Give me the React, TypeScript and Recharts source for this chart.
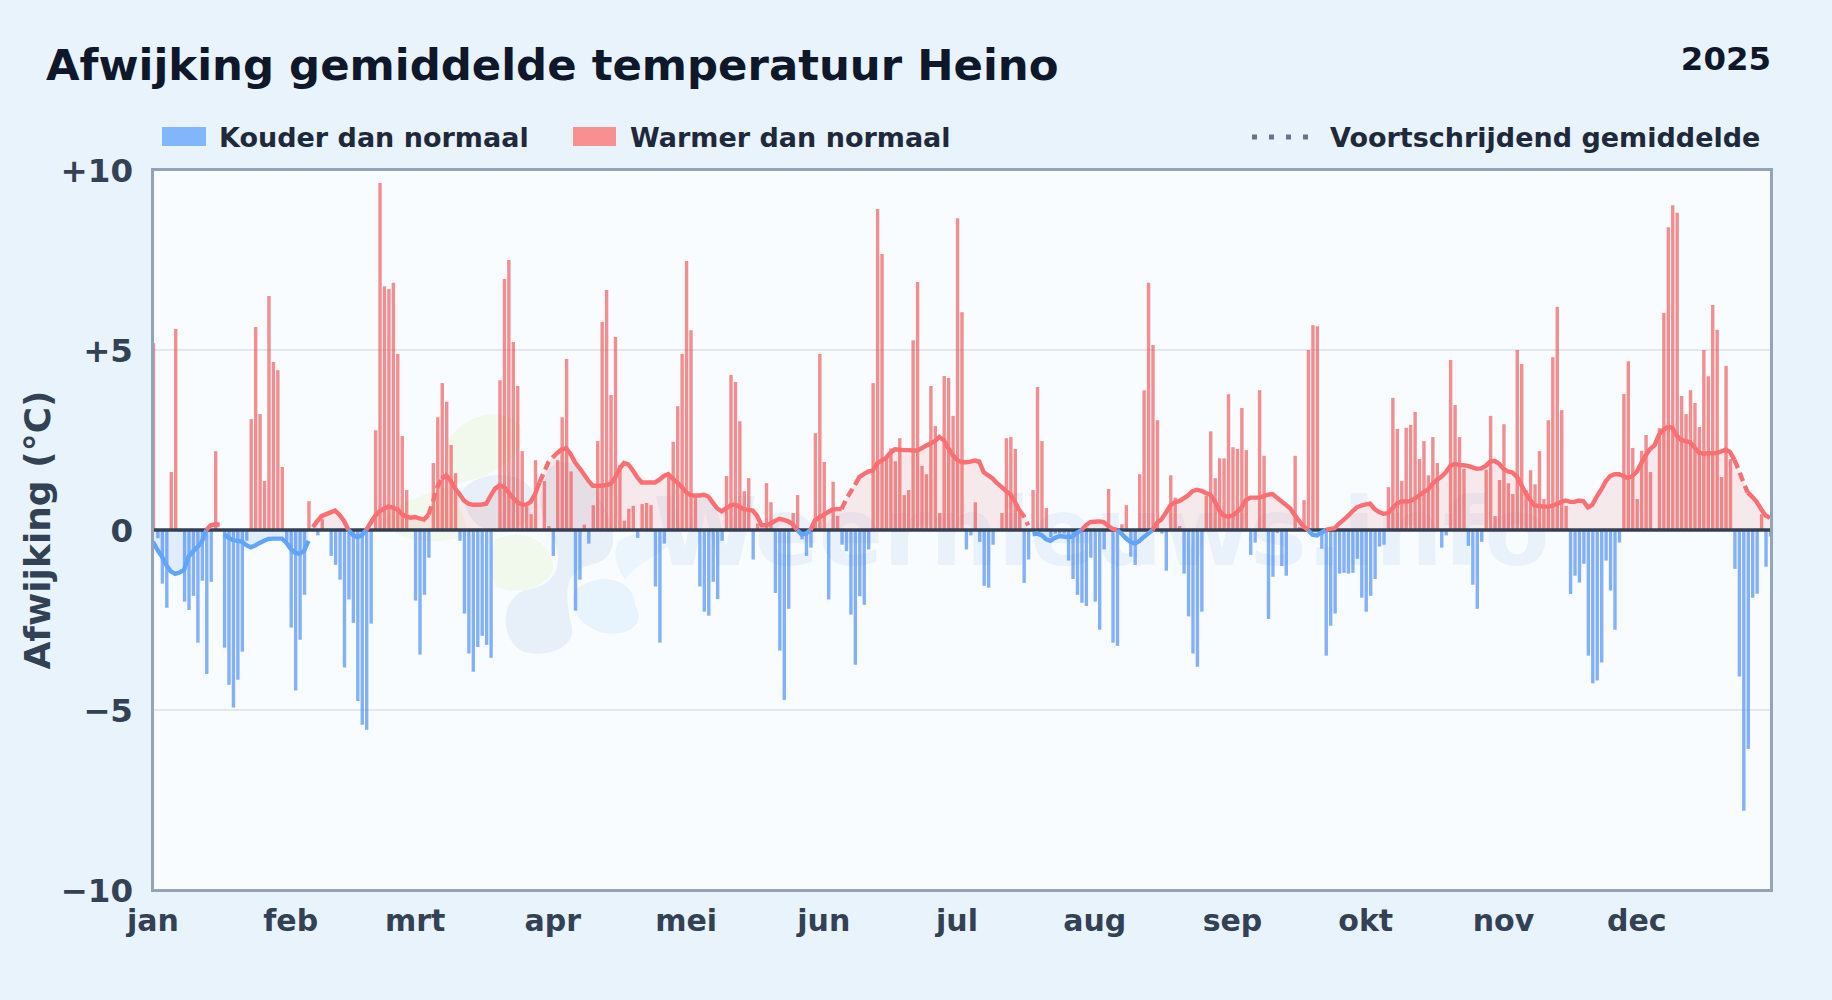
import React from 'react';
import { ComposedChart, Bar, Line, Area, XAxis, YAxis, CartesianGrid, ReferenceLine } from 'recharts';

const titleText = 'Afwijking gemiddelde temperatuur Heino';
const yearText = '2025';
const yAxisTitle = 'Afwijking (°C)';
const coldLabel = 'Kouder dan normaal';
const warmLabel = 'Warmer dan normaal';
const averageLabel = 'Voortschrijdend gemiddelde';

const monthStarts = [0, 31, 59, 90, 120, 151, 181, 212, 243, 273, 304, 334];
const monthLabels = ['jan', 'feb', 'mrt', 'apr', 'mei', 'jun', 'jul', 'aug', 'sep', 'okt', 'nov', 'dec'];
const valueTicks = [-10, -5, 0, 5, 10];
const dashedSpans = [[62, 65], [87, 90], [155, 158], [195, 197], [356, 359]];

const dailyAnomaly = [
  5.19, -0.23, -1.49, -2.16, 1.61, 5.58, -0.05, -1.99, -2.22, -1.83,
  -3.13, -1.41, -4.0, -1.44, 2.19, 0, -3.27, -4.3, -4.93, -4.16,
  -3.38, -0.3, 3.08, 5.64, 3.22, 1.36, 6.5, 4.67, 4.44, 1.75,
  -0.3, -2.71, -4.46, -3.05, -1.8, 0.8, 0, -0.15, 0.3, 0,
  -0.72, -0.97, -1.38, -3.82, -1.93, -2.58, -4.75, -5.41, -5.55, -2.6,
  2.77, 9.64, 6.77, 6.69, 6.87, 4.89, 2.61, 1.11, 0, -1.96,
  -3.46, -1.8, -0.77, 1.86, 3.13, 4.08, 3.56, 2.36, 1.58, -0.3,
  -2.32, -3.43, -3.94, -3.25, -2.94, -3.19, -3.55, 0, 4.16, 6.97,
  7.5, 5.22, 4.0, 2.19, 0.65, 0.44, 1.94, 0, 1.36, 0.11,
  -0.72, 1.94, 3.13, 4.75, 1.63, -2.24, -1.38, 0.15, -0.38, 0.69,
  2.47, 5.78, 6.67, 3.75, 5.36, 1.8, 0.26, 0.59, 0.67, -0.22,
  0.72, 0.75, 0.69, -1.57, -3.13, -0.38, 1.57, 2.45, 3.44, 4.89,
  7.47, 5.55, 0.95, -1.57, -2.27, -2.38, -1.44, -1.92, -0.3, 1.5,
  4.31, 4.11, 3.02, 1.08, 1.44, -0.82, 0.18, 0, 1.3, 0.77,
  -1.75, -3.35, -4.72, -2.19, 0.47, 0.97, -0.26, -0.72, -0.49, 2.69,
  4.89, 1.89, -1.93, 1.34, 0.39, -0.41, -0.59, -2.35, -3.74, -1.84,
  -2.08, -0.54, 4.08, 8.92, 7.67, 1.98, 2.27, 1.91, 2.55, 0.97,
  1.11, 5.27, 6.89, 1.78, 1.55, 4.0, 2.89, 0.47, 4.28, 4.22,
  3.17, 8.66, 6.05, -0.54, -0.15, 0.77, -0.33, -1.55, -1.6, -0.41,
  0, 0.47, 2.55, 2.58, 2.25, 0.49, -1.47, -0.82, 1.11, 3.97,
  2.47, 0.61, -0.2, -0.1, -0.1, -0.1, -0.85, -1.36, -1.8, -2.02,
  -2.11, -0.77, -1.99, -2.77, -0.54, 1.14, -3.13, -3.22, 0.16, 0.69,
  -0.74, -0.97, 1.55, 3.88, 6.87, 5.14, 3.05, -0.1, -1.13, 1.52,
  0.9, 0.11, -1.21, -2.4, -3.43, -3.8, -2.27, 0.95, 2.74, 1.44,
  1.99, 1.99, 3.77, 2.3, 2.25, 3.39, 2.22, -0.69, -0.35, 3.88,
  2.06, -2.47, -1.3, -0.08, -1.0, -1.27, 0, 2.06, 0.08, 0.83,
  5.0, 5.69, 5.66, -0.52, -3.49, -2.66, -2.32, -1.21, -1.19, -1.21,
  -1.19, -0.8, -1.88, -2.27, -1.83, -1.36, -0.46, -0.41, 1.19, 3.67,
  2.81, 1.36, 2.84, 2.92, 3.28, 1.97, 2.47, 1.52, 2.58, 1.86,
  -0.49, -0.15, 4.72, 3.47, 2.58, 1.7, -0.44, -1.52, -2.19, -0.33,
  1.68, 3.17, 0.39, 1.39, 2.94, 1.3, 1.0, 5.0, 4.61, 1.11,
  1.66, 1.27, 2.19, 0.86, 3.05, 4.8, 6.2, 3.33, 0.67, -1.78,
  -1.27, -1.46, -0.94, -3.49, -4.26, -4.18, -3.68, -0.85, -1.68, -2.77,
  -0.35, 3.78, 4.69, 2.28, 0.86, 2.2, 2.64, 1.61, 0, 2.83,
  6.03, 8.41, 9.02, 8.81, 3.72, 3.22, 3.88, 3.53, 2.86, 5.0,
  4.27, 6.25, 5.56, 1.47, 4.56, 1.97, -1.08, -4.07, -7.8, -6.08,
  -1.88, -1.77, 0.44, -1.02, -0.18,
];

const dailyAverage = [
  -0.33, -0.55, -0.74, -0.97, -1.15, -1.22, -1.18, -1.1, -0.74, -0.6,
  -0.47, -0.33, 0, 0.13, 0.16, 0.15, -0.12, -0.22, -0.28, -0.3,
  -0.32, -0.42, -0.48, -0.43, -0.36, -0.3, -0.25, -0.24, -0.24, -0.24,
  -0.35, -0.52, -0.64, -0.66, -0.58, -0.3, 0.08, 0.25, 0.39, 0.44,
  0.49, 0.54, 0.42, 0.25, 0, -0.14, -0.2, -0.15, 0, 0.2,
  0.39, 0.52, 0.6, 0.65, 0.62, 0.57, 0.45, 0.37, 0.34, 0.36,
  0.32, 0.29, 0.42, 0.78, 1.2, 1.42, 1.52, 1.37, 1.15, 1.0,
  0.82, 0.73, 0.7, 0.7, 0.71, 0.73, 0.95, 1.15, 1.24, 1.2,
  1.05, 0.9, 0.77, 0.71, 0.7, 0.78, 1.0, 1.32, 1.6, 1.88,
  2.02, 2.14, 2.24, 2.27, 2.11, 1.88, 1.72, 1.55, 1.37, 1.23,
  1.23, 1.23, 1.25, 1.28, 1.45, 1.7, 1.86, 1.82, 1.66, 1.47,
  1.32, 1.32, 1.32, 1.32, 1.4, 1.5, 1.55, 1.43, 1.32, 1.2,
  1.05, 0.97, 0.96, 0.96, 0.98, 0.93, 0.76, 0.6, 0.52, 0.6,
  0.68, 0.71, 0.65, 0.58, 0.56, 0.54, 0.39, 0.13, 0.13, 0.18,
  0.25, 0.31, 0.28, 0.24, 0.16, 0, -0.12, -0.1, 0, 0.27,
  0.35, 0.42, 0.5, 0.57, 0.58, 0.58, 0.85, 1.05, 1.25, 1.47,
  1.55, 1.62, 1.65, 1.85, 1.93, 2.0, 2.15, 2.24, 2.23, 2.22,
  2.22, 2.21, 2.21, 2.27, 2.34, 2.4, 2.47, 2.58, 2.5, 2.28,
  2.08, 1.95, 1.88, 1.88, 1.9, 1.93, 1.9, 1.6, 1.52, 1.43,
  1.3, 1.2, 1.08, 1.0, 0.8, 0.55, 0.39, 0.13, -0.12, -0.1,
  -0.14, -0.25, -0.3, -0.22, -0.17, -0.18, -0.2, -0.18, -0.08, 0,
  0.13, 0.22, 0.23, 0.24, 0.22, 0.12, 0.03, 0, -0.1, -0.23,
  -0.33, -0.38, -0.31, -0.2, -0.1, 0, 0.2, 0.29, 0.48, 0.68,
  0.77, 0.8, 0.88, 0.96, 1.08, 1.12, 1.09, 1.03, 0.98, 0.8,
  0.55, 0.4, 0.37, 0.4, 0.5, 0.62, 0.83, 0.9, 0.9, 0.9,
  0.94, 0.98, 1.0, 0.9, 0.8, 0.7, 0.6, 0.42, 0.25, 0.1,
  0, -0.13, -0.15, -0.07, 0, 0.03, 0.05, 0.18, 0.28, 0.39,
  0.52, 0.63, 0.68, 0.71, 0.73, 0.58, 0.5, 0.45, 0.47, 0.6,
  0.73, 0.79, 0.79, 0.8, 0.87, 0.96, 1.05, 1.12, 1.28, 1.39,
  1.48, 1.6, 1.78, 1.83, 1.81, 1.8, 1.78, 1.74, 1.7, 1.71,
  1.78, 1.9, 1.92, 1.84, 1.7, 1.63, 1.6, 1.48, 1.26, 1.03,
  0.84, 0.68, 0.67, 0.65, 0.65, 0.67, 0.72, 0.78, 0.82, 0.78,
  0.78, 0.82, 0.8, 0.63, 0.7, 0.93, 1.12, 1.35, 1.5, 1.55,
  1.55, 1.5, 1.44, 1.5, 1.62, 1.85, 2.07, 2.25, 2.35, 2.65,
  2.78, 2.86, 2.84, 2.62, 2.5, 2.47, 2.44, 2.3, 2.15, 2.12,
  2.13, 2.13, 2.14, 2.18, 2.23, 2.17, 1.95, 1.65, 1.33, 1.04,
  0.92, 0.78, 0.58, 0.4, 0.34,
];

const insideDash = (d: number) => dashedSpans.some(([a, b]) => d > a && d < b);
const onDash = (d: number) => dashedSpans.some(([a, b]) => d >= a && d <= b);

const rows = dailyAnomaly.map((v, day) => {
  const m = dailyAverage[day];
  const warm = m >= 0 ? m : null;
  return {
    day,
    warmBar: v > 0 ? v : 0,
    coldBar: v < 0 ? v : 0,
    warmFill: warm,
    coldFill: m <= 0 ? m : null,
    warmSolid: warm !== null && !insideDash(day) ? warm : null,
    warmDash: warm !== null && onDash(day) ? warm : null,
    coldLine: m <= 0 ? m : null,
  };
});

const FONT = '"DejaVu Sans", sans-serif';
const fmtValue = (v: number) => (v > 0 ? `+${v}` : v < 0 ? `\u2212${-v}` : '0');
const fmtMonth = (d: number) => monthLabels[monthStarts.indexOf(d)] ?? '';

const abs = (left: number, top: number, extra: React.CSSProperties = {}): React.CSSProperties => ({
  position: 'absolute', left, top, fontFamily: FONT, fontWeight: 700, whiteSpace: 'nowrap', lineHeight: 1, ...extra,
});

function Watermark() {
  return (
    <svg width={1832} height={1000} style={{ position: 'absolute', left: 0, top: 0 }}>
      <g opacity={0.9}>
        <path d="M448 440 C470 410 505 408 520 425 C528 450 505 472 470 480 C440 490 395 500 385 520 C395 545 440 545 470 535 C460 510 445 470 448 440Z" fill="#f1f8ea" />
        <path d="M495 540 C525 525 555 545 553 570 C545 592 505 596 495 585 C490 570 490 555 495 540Z" fill="#f1f8ea" />
        <path d="M462 490 C480 470 520 470 532 490 C535 510 530 530 500 532 C480 532 465 520 462 490Z" fill="#e6eff8" />
        <path d="M548 470 C565 450 590 470 600 500 C618 530 620 560 590 565 C565 572 565 590 570 620 C582 650 540 660 520 650 C500 635 500 600 525 590 C560 585 565 560 550 530 C535 510 540 490 548 470Z" fill="#e6eff8" />
        <path d="M575 590 C600 570 635 580 635 605 C650 630 615 640 595 630 C575 620 570 605 575 590Z" fill="#e6f3fd" />
        <path d="M620 540 C650 525 680 530 670 545 C650 560 635 565 625 580 C615 565 612 550 620 540Z" fill="#eaf5fe" />
      </g>
      <text x={653} y={565} fontFamily={FONT} fontWeight={700} fontSize={95} fill="#e9f2fb">
        Weernieuws.info
      </text>
    </svg>
  );
}

export default function App() {
  return (
    <div style={{ position: 'absolute', left: 0, top: 0, width: 1832, height: 1000, overflow: 'hidden', background: '#e8f3fc' }}>
      <div style={{ position: 'absolute', left: 152, top: 169, width: 1619, height: 721, background: '#f8fcff' }} />
      <Watermark />

      <div style={abs(46, 44, { fontSize: 43.4, color: '#0f172a' })}>{titleText}</div>
      <div style={abs(1671, 43, { fontSize: 32.4, color: '#0f172a', width: 100, textAlign: 'right' })}>{yearText}</div>

      <div style={{ position: 'absolute', left: 162, top: 127, width: 44, height: 19, background: '#82b6fb' }} />
      <div style={abs(219, 124, { fontSize: 27, color: '#1e293b' })}>{coldLabel}</div>
      <div style={{ position: 'absolute', left: 573, top: 127, width: 43, height: 19, background: '#f88f90' }} />
      <div style={abs(630, 124, { fontSize: 27, color: '#1e293b' })}>{warmLabel}</div>
      <svg width={60} height={10} style={{ position: 'absolute', left: 1250, top: 132 }}>
        <line x1={2} y1={5} x2={58} y2={5} stroke="#64748b" strokeWidth={5} strokeDasharray="5 12" />
      </svg>
      <div style={abs(1330, 124, { fontSize: 27, color: '#1e293b' })}>{averageLabel}</div>

      <div style={{ position: 'absolute', left: 0, top: 0 }}>
        <ComposedChart
          width={1832}
          height={1000}
          data={rows}
          stackOffset="sign"
          barGap={0}
          margin={{ top: 170, right: 62, bottom: 50, left: 53 }}
        >
          <CartesianGrid horizontal vertical={false} stroke="#e2e8f0" strokeWidth={2} />
          <XAxis
            dataKey="day"
            type="number"
            scale="linear"
            domain={[0, 364]}
            ticks={monthStarts}
            interval={0}
            tickFormatter={fmtMonth}
            axisLine={false}
            tickLine={false}
            height={60}
            tickMargin={14}
            tick={{ fontFamily: FONT, fontWeight: 700, fontSize: 30, fill: '#334155' }}
          />
          <YAxis
            type="number"
            domain={[-10, 10]}
            ticks={valueTicks}
            interval={0}
            tickFormatter={fmtValue}
            axisLine={false}
            tickLine={false}
            width={100}
            tickMargin={14}
            tick={{ fontFamily: FONT, fontWeight: 700, fontSize: 32.5, fill: '#334155' }}
          />
          <Area dataKey="warmFill" type="linear" stroke="none" fill="#ef4444" fillOpacity={0.1} isAnimationActive={false} dot={false} activeDot={false} />
          <Area dataKey="coldFill" type="linear" stroke="none" fill="#3b82f6" fillOpacity={0.12} isAnimationActive={false} dot={false} activeDot={false} />
          <Bar dataKey="coldBar" stackId="d" barSize={3.4} fill="#3b82f6" fillOpacity={0.62} isAnimationActive={false} />
          <Bar dataKey="warmBar" stackId="d" barSize={3.4} fill="#ef4444" fillOpacity={0.6} isAnimationActive={false} />
          <ReferenceLine y={0} stroke="#334155" strokeWidth={3.6} />
          <Line dataKey="coldLine" type="linear" stroke="#60a5fa" strokeWidth={4.4} dot={false} activeDot={false} isAnimationActive={false} />
          <Line dataKey="warmSolid" type="linear" stroke="#fb6f72" strokeWidth={4.4} dot={false} activeDot={false} isAnimationActive={false} />
          <Line dataKey="warmDash" type="linear" stroke="#fb6f72" strokeWidth={4.4} strokeDasharray="9 5" dot={false} activeDot={false} isAnimationActive={false} />
        </ComposedChart>
      </div>

      <div style={{ position: 'absolute', left: 150.5, top: 167.5, width: 1616, height: 718, border: '3px solid #94a3b8', pointerEvents: 'none' }} />
      <div style={abs(38, 530, { fontSize: 36, color: '#334155', transform: 'translate(-50%,-50%) rotate(-90deg)' })}>{yAxisTitle}</div>
    </div>
  );
}
